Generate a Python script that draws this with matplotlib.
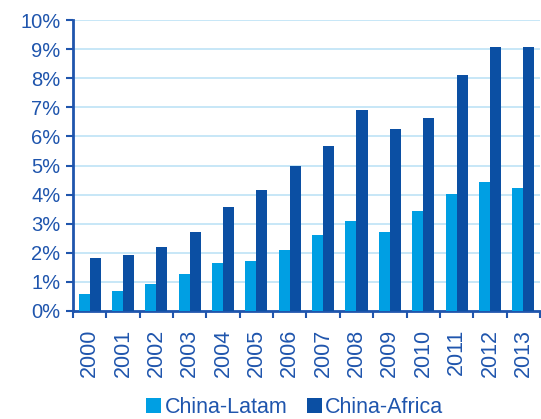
import numpy as np
import matplotlib.pyplot as plt
from matplotlib.ticker import FixedLocator, PercentFormatter

years = ['2000', '2001', '2002', '2003', '2004', '2005', '2006',
         '2007', '2008', '2009', '2010', '2011', '2012', '2013']
latam = [0.58, 0.69, 0.91, 1.26, 1.65, 1.73, 2.09,
         2.62, 3.10, 2.70, 3.44, 4.02, 4.44, 4.23]
africa = [1.82, 1.92, 2.19, 2.73, 3.58, 4.16, 4.99,
          5.66, 6.91, 6.24, 6.64, 8.11, 9.07, 9.06]

c_latam = '#009fe3'
c_africa = '#0b4fa3'
c_text = '#1f55ad'
c_grid = '#bde3f6'

plt.rcParams['font.family'] = ['Liberation Sans', 'DejaVu Sans']

fig = plt.figure(figsize=(5.41, 4.19), dpi=100)
ax = fig.add_axes([0.135, 0.258, 0.863, 0.694])

x = np.arange(len(years)) + 0.5
w = 0.33
ax.bar(x - w / 2, latam, w, color=c_latam, label='China-Latam', zorder=3)
ax.bar(x + w / 2, africa, w, color=c_africa, label='China-Africa', zorder=3)

ax.set_xlim(0, len(years))
ax.set_ylim(0, 10)
ax.set_yticks(np.arange(0, 11, 1))
ax.yaxis.set_major_formatter(PercentFormatter(decimals=0))
ax.yaxis.grid(True, color=c_grid, linewidth=1.2, zorder=0)

# category boundaries carry the tick marks, labels sit at the centres
ax.xaxis.set_major_locator(FixedLocator(np.arange(len(years) + 1)))
ax.xaxis.set_minor_locator(FixedLocator(x))
ax.set_xticklabels([''] * (len(years) + 1))
ax.set_xticklabels(years, minor=True, rotation=90)
ax.tick_params(axis='x', which='major', length=5, width=1.5, color=c_text, direction='out')
ax.tick_params(axis='x', which='minor', length=0, pad=13, labelsize=15.5, labelcolor=c_text)
ax.tick_params(axis='y', length=5, width=1.5, color=c_text, pad=4, labelsize=14.5, labelcolor=c_text)

for s in ['top', 'right']:
    ax.spines[s].set_visible(False)
for s in ['left', 'bottom']:
    ax.spines[s].set_color(c_text)
    ax.spines[s].set_linewidth(2)

fig.legend(loc='lower center', bbox_to_anchor=(0.545, -0.045), ncol=2, frameon=False,
           fontsize=15.5, labelcolor=c_text, handlelength=0.7, handleheight=0.7,
           handletextpad=0.15, columnspacing=0.9)

fig.savefig('out.png', dpi=100)
